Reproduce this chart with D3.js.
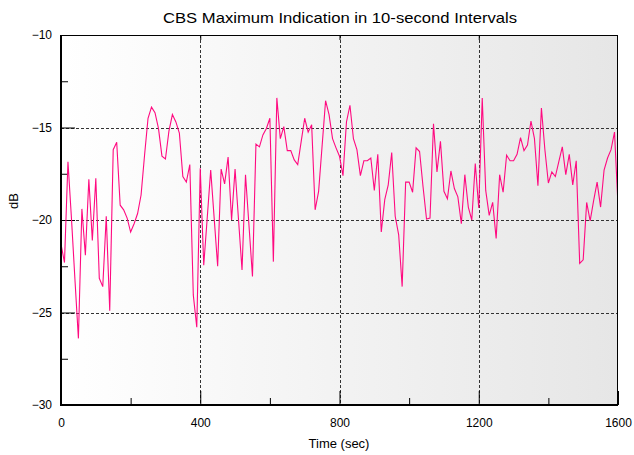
<!DOCTYPE html>
<html>
<head>
<meta charset="utf-8">
<script src="https://cdn.jsdelivr.net/npm/d3@7"></script>
<style>
  html, body { margin: 0; padding: 0; background: #fff; }
  svg { display: block; }
  text { font-family: "Liberation Sans", Arial, sans-serif; fill: #000; }
</style>
</head>
<body>
<svg id="chart" width="634" height="455"></svg>
<script>
// ---- data ----
const title = "CBS Maximum Indication in 10-second Intervals";
const xLabel = "Time (sec)";
const yLabel = "dB";
const sampleInterval = 10; // seconds
const cbsMax = [
  -21.3, -22.3, -16.85, -19.9, -23.2, -26.4, -19.4, -21.9, -17.8, -21.1,
  -17.75, -23.15, -23.6, -19.8, -24.9, -16.2, -15.8, -19.2, -19.45, -19.9,
  -20.65, -20.2, -19.65, -18.65, -16.5, -14.5, -13.9, -14.2, -15.05, -16.55,
  -16.7, -15.2, -14.3, -14.7, -15.3, -17.65, -17.95, -17.0, -24.05, -25.8,
  -17.2, -22.45, -19.9, -17.3, -19.9, -22.5, -17.25, -18.05, -16.6, -20.0,
  -17.25, -20.0, -22.7, -17.55, -20.3, -23.05, -15.9, -16.05, -15.4, -15.05,
  -14.5, -22.25, -13.4, -15.6, -14.95, -16.25, -16.25, -16.75, -17.0, -15.75,
  -14.5, -15.25, -14.85, -19.45, -18.45, -16.0, -13.55, -14.3, -15.6, -16.1,
  -16.55, -17.6, -14.7, -13.8, -15.6, -16.2, -17.6, -16.8, -16.8, -16.65,
  -18.4, -16.45, -20.65, -18.9, -18.1, -16.35, -19.8, -20.8, -23.6, -17.95,
  -17.95, -18.5, -16.1, -16.3, -18.2, -19.95, -19.9, -14.8, -17.4, -15.75,
  -18.45, -18.85, -17.35, -18.3, -18.75, -20.2, -17.55, -19.3, -20.0, -16.95,
  -19.35, -13.4, -18.4, -19.75, -19.05, -21.0, -17.55, -18.5, -16.5, -16.8,
  -16.8, -16.45, -15.55, -16.25, -15.95, -14.65, -15.6, -18.15, -13.95, -16.2,
  -18.0, -17.4, -17.65, -16.85, -16.05, -17.55, -16.45, -18.1, -16.8, -22.35,
  -22.15, -19.05, -20.05, -18.95, -17.95, -19.3, -17.3, -16.65, -16.2, -15.25,
  -19.2
];
const xTicks = [0, 400, 800, 1200, 1600];
const xMinorTicks = [200, 600, 1000, 1400];
const yTicks = [-30, -25, -20, -15, -10];
const yMinorTicks = [-27.5, -22.5, -17.5, -12.5];
const xGrid = [400, 800, 1200];
const yGrid = [-25, -20, -15];

// ---- layout ----
const svg = d3.select("#chart");
const L = 61, R = 618, T = 35, B = 405;
const x = d3.scaleLinear().domain([0, 1600]).range([L, R]);
const y = d3.scaleLinear().domain([-30, -10]).range([B, T]);

const data = cbsMax.map((v, i) => ({ t: i * sampleInterval, v }));

// background gradient
const defs = svg.append("defs");
const grad = defs.append("linearGradient").attr("id", "bg")
  .attr("x1", "0%").attr("x2", "100%").attr("y1", "0%").attr("y2", "0%");
grad.append("stop").attr("offset", "0%").attr("stop-color", "#ffffff");
grad.append("stop").attr("offset", "100%").attr("stop-color", "#e6e6e6");
defs.append("clipPath").attr("id", "clip").append("rect")
  .attr("x", L).attr("y", T).attr("width", R - L).attr("height", B - T);

svg.append("rect").attr("x", L).attr("y", T).attr("width", R - L).attr("height", B - T)
  .attr("fill", "url(#bg)");

// grid lines
const grid = svg.append("g").attr("stroke", "#333").attr("stroke-width", 1)
  .attr("stroke-dasharray", "3,2").attr("shape-rendering", "crispEdges");
grid.selectAll("line.gx").data(xGrid).join("line")
  .attr("x1", d => Math.round(x(d)) + 0.5).attr("x2", d => Math.round(x(d)) + 0.5)
  .attr("y1", T).attr("y2", B);
grid.selectAll("line.gy").data(yGrid).join("line")
  .attr("y1", d => Math.round(y(d)) + 0.5).attr("y2", d => Math.round(y(d)) + 0.5)
  .attr("x1", L).attr("x2", R);

// axes with inward ticks
const axB = d3.axisBottom(x).tickValues(xTicks).tickSize(-14).tickPadding(20).tickFormat(d3.format("d"));
const gB = svg.append("g").attr("transform", `translate(0,${B})`).call(axB);
const axBm = d3.axisBottom(x).tickValues(xMinorTicks).tickSize(-7).tickFormat("");
svg.append("g").attr("transform", `translate(0,${B})`).call(axBm).select(".domain").remove();

const axL = d3.axisLeft(y).tickValues(yTicks).tickSize(-14).tickPadding(22).tickFormat(d3.format("d"));
const gL = svg.append("g").attr("transform", `translate(${L},0)`).call(axL);
const axLm = d3.axisLeft(y).tickValues(yMinorTicks).tickSize(-7).tickFormat("");
svg.append("g").attr("transform", `translate(${L},0)`).call(axLm).select(".domain").remove();

// top short ticks
const axT = d3.axisTop(x).tickValues(xGrid).tickSize(-5).tickFormat("");
svg.append("g").attr("transform", `translate(0,${T})`).call(axT).select(".domain").remove();

svg.selectAll(".tick line").attr("stroke", "#000");
svg.selectAll(".domain").remove();
svg.selectAll(".tick text").attr("font-size", 12).attr("font-family", "Liberation Sans, Arial, sans-serif").attr("fill", "#000");
gB.selectAll(".tick text").attr("dy", "0.2em");
gL.selectAll(".tick text").attr("dx", "13");

// line
const line = d3.line().x(d => x(d.t)).y(d => y(d.v));
svg.append("path").datum(data).attr("d", line)
  .attr("fill", "none").attr("stroke", "#ff0a80").attr("stroke-width", 1.1)
  .attr("clip-path", "url(#clip)");

// frame
svg.append("rect").attr("x", L + 0.5).attr("y", T + 0.5).attr("width", R - L - 1).attr("height", B - T - 1)
  .attr("fill", "none").attr("stroke", "#000").attr("stroke-width", 1)
  .attr("shape-rendering", "crispEdges");
svg.append("line").attr("x1", L - 0.5).attr("x2", L - 0.5).attr("y1", T).attr("y2", B + 1)
  .attr("stroke", "#000").attr("shape-rendering", "crispEdges");
svg.append("line").attr("x1", L - 1).attr("x2", R).attr("y1", B + 0.5).attr("y2", B + 0.5)
  .attr("stroke", "#000").attr("shape-rendering", "crispEdges");

// texts
svg.append("text").attr("x", 340).attr("y", 23).attr("text-anchor", "middle")
  .attr("font-size", 15).attr("textLength", 354).attr("lengthAdjust", "spacingAndGlyphs")
  .text(title);
svg.append("text").attr("x", 339).attr("y", 448).attr("text-anchor", "middle")
  .attr("font-size", 13).text(xLabel);
svg.append("text").attr("transform", "translate(18,201) rotate(-90)").attr("text-anchor", "middle")
  .attr("font-size", 13).text(yLabel);
</script>
</body>
</html>
